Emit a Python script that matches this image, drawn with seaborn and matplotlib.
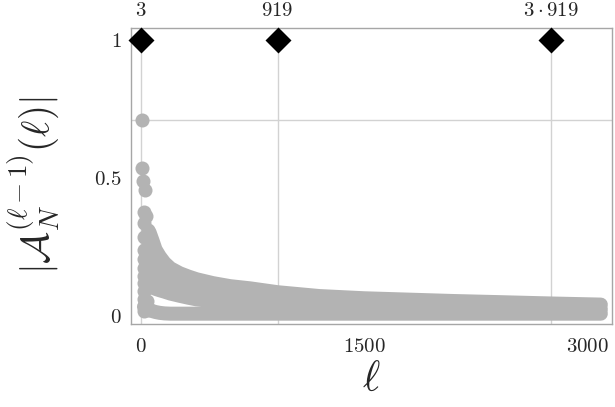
import matplotlib
matplotlib.use("Agg")
import matplotlib.pyplot as plt
import seaborn as sns

# ---------------- data ----------------
# isolated large values at small ell
iso_ell = [12, 12, 17, 28]
iso_val = [0.707, 0.534, 0.487, 0.455]

# dense column of points at small ell
col_ell = [22, 36, 22, 46, 22, 56, 22, 66, 22, 22, 60, 22, 50, 22, 40, 22, 22, 30, 40, 22, 50]
col_val = [0.375, 0.36, 0.336, 0.31, 0.285, 0.28, 0.238, 0.25, 0.202, 0.17, 0.2, 0.141, 0.15,
           0.115, 0.1, 0.087, 0.06, 0.04, 0.05, 0.015, 0.02]

# band of points for larger ell: upper edge, lower family edge, floor
ell_band = [60, 80, 100, 128, 160, 200, 262, 320, 376, 485, 600, 735, 919, 1200, 1500, 1800,
            2100, 2400, 2757, 3090]
band_top = [0.30, 0.27, 0.238, 0.213, 0.19, 0.170, 0.152, 0.140, 0.130, 0.116, 0.105, 0.097,
            0.083, 0.069, 0.061, 0.056, 0.051, 0.047, 0.042, 0.038]
band_mid = [0.12, 0.10, 0.095, 0.09, 0.085, 0.078, 0.070, 0.063, 0.057, 0.050, 0.045, 0.042,
            0.038, 0.034, 0.031, 0.029, 0.027, 0.025, 0.023, 0.021]
band_floor = [0.02, 0.014, 0.011, 0.008, 0.006, 0.005, 0.005, 0.005, 0.005, 0.005, 0.005, 0.005,
              0.005, 0.005, 0.005, 0.005, 0.005, 0.005, 0.005, 0.005]
floor_ell = [22, 50]
floor_val = [0.03, 0.022]

# special points
special_ell = [3, 919, 2757]
special_val = [1, 1, 1]
top_labels = [r"$3$", r"$919$", r"$3\cdot919$"]

xticks = [0, 1500, 3000]
xtick_labels = [r"$0$", r"$1500$", r"$3000$"]
yticks = [0, 0.5, 1]
ytick_labels = [r"$0$", r"$0.5$", r"$1$"]
hline = 0.707

# ---------------- style ----------------
sns.set_style("white")
plt.rcParams["mathtext.fontset"] = "cm"
plt.rcParams["font.family"] = ["DejaVu Serif"]

gray = "#b3b3b3"
grid_c = "#d2d2d2"
frame_c = "#a6a6a6"

fig = plt.figure(figsize=(6.15, 4.07), dpi=100)
ax = fig.add_axes([131 / 615, (407 - 324) / 407, (612 - 131) / 615, (324 - 28) / 407])

# grid lines
for xv in special_ell:
    ax.axvline(xv, color=grid_c, lw=1.0, zorder=0)
ax.axhline(hline, color=grid_c, lw=1.0, zorder=0)

lw = 10.1
# band body
ax.fill_between(ell_band, band_mid, band_top, color=gray, linewidth=0, zorder=2)
k = ell_band.index(485)
ax.fill_between(ell_band[k:], band_floor[k:], band_mid[k:], color=gray, linewidth=0, zorder=2)
for xs, ys in [(ell_band, band_top), (ell_band, band_mid),
               (floor_ell + ell_band, floor_val + band_floor)]:
    sns.lineplot(x=xs, y=ys, ax=ax, color=gray, linewidth=lw, sort=False, estimator=None,
                 solid_capstyle="round", solid_joinstyle="round", zorder=2)

sns.scatterplot(x=col_ell, y=col_val, ax=ax, color=gray, s=102, linewidth=0, zorder=2)
sns.scatterplot(x=iso_ell, y=iso_val, ax=ax, color=gray, s=102, linewidth=0, zorder=2)
sns.scatterplot(x=special_ell, y=special_val, ax=ax, color="black", marker="D", s=175,
                linewidth=0, zorder=5, clip_on=False)

ax.set_xlim(-65, 3165)
ax.set_ylim(-0.0325, 1.043)

ax.set_xticks(xticks)
ax.set_xticklabels(xtick_labels, fontsize=15)
ax.set_yticks(yticks)
ax.set_yticklabels(ytick_labels, fontsize=15)
ax.tick_params(axis="both", direction="in", length=4, width=0.8, color="#777777", pad=7)
ax.tick_params(axis="x", pad=9)

for sp in ax.spines.values():
    sp.set_color(frame_c)
    sp.set_linewidth(1.0)

sec = ax.secondary_xaxis("top")
sec.set_xticks(special_ell)
sec.set_xticklabels(top_labels, fontsize=15)
sec.tick_params(length=0, pad=6)
sec.spines["top"].set_visible(False)

ax.set_xlabel(r"$\ell$", fontsize=30, labelpad=2)
ax.set_ylabel(r"$|\mathcal{A}_N^{(\ell-1)}(\ell)|$", fontsize=28)
ax.yaxis.set_label_coords(-0.145, 0.47)

fig.savefig("out.png", dpi=100)
